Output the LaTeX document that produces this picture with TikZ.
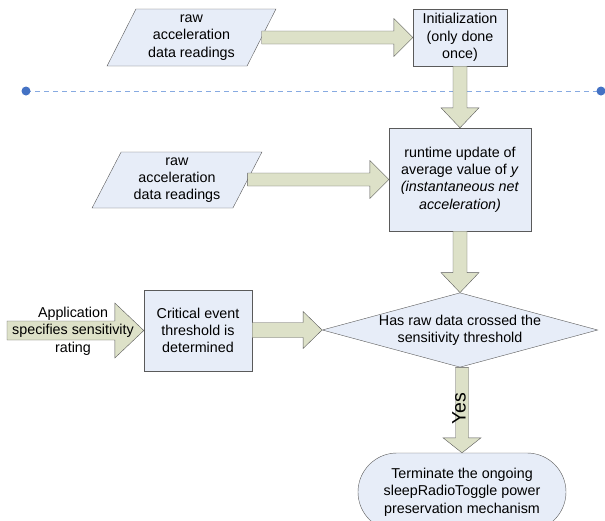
\documentclass[tikz,border=0pt]{standalone}
\usepackage{fontspec}
\setmainfont{Liberation Sans}
\usetikzlibrary{shapes.geometric,shapes.misc,calc}
\definecolor{boxfill}{RGB}{231,237,248}
\definecolor{arrfill}{RGB}{221,225,200}
\definecolor{edgegray}{RGB}{90,90,90}
\definecolor{sepline}{RGB}{135,170,225}
\definecolor{sepdot}{RGB}{68,114,196}

% block arrows: from, to, half body, half head, head length
\newcommand{\harrow}[5]{%
  \draw[barrow] let \p1=#1, \p2=#2 in
    (\x1,\y2+#3) -- (\x2-#5,\y2+#3) -- (\x2-#5,\y2+#4) -- (\x2,\y2)
    -- (\x2-#5,\y2-#4) -- (\x2-#5,\y2-#3) -- (\x1,\y2-#3) -- cycle;}
\newcommand{\varrow}[5]{%
  \draw[barrow] let \p1=#1, \p2=#2 in
    (\x2+#3,\y1) -- (\x2+#3,\y2+#5) -- (\x2+#4,\y2+#5) -- (\x2,\y2)
    -- (\x2-#4,\y2+#5) -- (\x2-#3,\y2+#5) -- (\x2-#3,\y1) -- cycle;}

\begin{document}
\begin{tikzpicture}[x=1pt,y=-1pt,
  txt/.style={align=center,inner sep=1pt,font=\fontsize{14.3}{17.3}\selectfont},
  box/.style={txt,draw=edgegray,fill=boxfill},
  blk/.style={box,rectangle},
  io/.style={box,trapezium,trapezium left angle=64,trapezium right angle=116,
    trapezium stretches=true},
  test/.style={box,diamond,aspect=3.7,inner sep=0pt},
  term/.style={box,rounded rectangle},
  barrow/.style={draw=edgegray,fill=arrfill,line join=miter}]
\useasboundingbox (0,0) rectangle (605,520);
\clip (0,0) rectangle (605,520);

% separator
\coordinate (sepL) at (26,91);
\coordinate (sepR) at (601,91);
\draw[sepline,line width=1pt,dash pattern=on 5pt off 4pt] (sepL) -- (sepR);
\fill[sepdot] (sepL) circle (4.5pt) (sepR) circle (4.5pt);

% nodes
\node[io,minimum width=169pt,minimum height=57pt] (rawA) at (191.5,37.5)
  {raw\\acceleration\\data readings};
\node[blk,minimum width=94pt,minimum height=57pt] (init) at (460,37.5)
  {Initialization\\(only done\\once)};
\node[io,minimum width=170pt,minimum height=56pt] (rawB) at (177,180)
  {raw\\acceleration\\data readings};
\node[blk,minimum width=142pt,minimum height=103pt] (update) at (460,179.5)
  {runtime update of\\average value of \textit{y}\\\textit{(instantaneous net}\\\textit{acceleration)}};
\node[blk,minimum width=108pt,minimum height=81pt] (crit) at (198,330.5)
  {Critical event\\threshold is\\determined};
\node[test,minimum width=274pt,minimum height=74pt] (check) at (460,330)
  {Has raw data crossed the\\sensitivity threshold};
\node[term,minimum width=210pt,minimum height=78pt] (stop) at (462,492)
  {Terminate the ongoing\\sleepRadioToggle power\\preservation mechanism};
\coordinate (applstart) at (7,330);

% arrows
\harrow{(rawA.east)}{(init.west)}{6.5pt}{19pt}{19pt}
\varrow{(init.south)}{(update.north)}{7pt}{19pt}{20pt}
\harrow{(rawB.east)}{(update.west)}{6.5pt}{19pt}{19pt}
\varrow{(update.south)}{(check.north)}{7pt}{19pt}{20pt}
\harrow{(applstart)}{(crit.west)}{9.5pt}{27.5pt}{29pt}
\harrow{(crit.east)}{(check.west)}{7.5pt}{18.5pt}{19pt}
\varrow{(check.south)}{(stop.north)}{6.5pt}{19pt}{15pt}

\node[txt] (appl) at (73,331) {Application\\specifies sensitivity\\rating};
\node[txt,font=\fontsize{19.5}{22}\selectfont,rotate=90] (yes) at (459,409) {Yes};
\end{tikzpicture}
\end{document}
